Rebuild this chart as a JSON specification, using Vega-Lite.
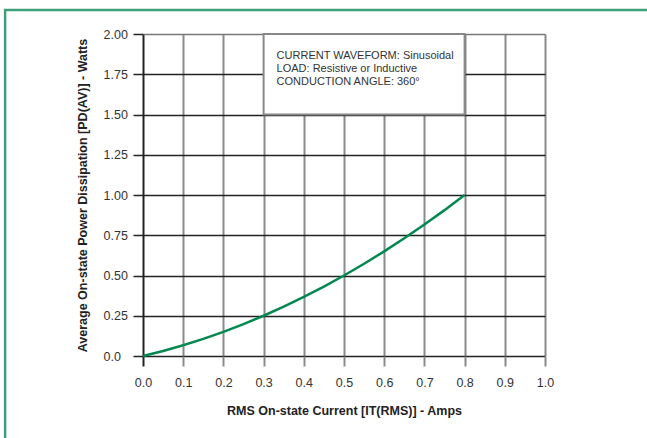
{
  "$schema": "https://vega.github.io/schema/vega-lite/v6.json",
  "autosize": {"type": "none"},
  "width": 402,
  "height": 322,
  "padding": {"left": 143, "top": 34, "right": 102, "bottom": 82},
  "background": "white",
  "config": {
    "view": {"stroke": null},
    "font": "Liberation Sans",
    "axis": {"labelFont": "Liberation Sans", "titleFont": "Liberation Sans"}
  },
  "datasets": {
    "curve": [
      {"current": 0.0, "power": 0.0},
      {"current": 0.05, "power": 0.031},
      {"current": 0.1, "power": 0.067},
      {"current": 0.15, "power": 0.106},
      {"current": 0.2, "power": 0.15},
      {"current": 0.25, "power": 0.198},
      {"current": 0.3, "power": 0.25},
      {"current": 0.35, "power": 0.306},
      {"current": 0.4, "power": 0.367},
      {"current": 0.45, "power": 0.431},
      {"current": 0.5, "power": 0.5},
      {"current": 0.55, "power": 0.573},
      {"current": 0.6, "power": 0.65},
      {"current": 0.65, "power": 0.731},
      {"current": 0.7, "power": 0.817},
      {"current": 0.75, "power": 0.906},
      {"current": 0.8, "power": 1.0}
    ],
    "note": [
      {"text": "CURRENT WAVEFORM: Sinusoidal\nLOAD: Resistive or Inductive\nCONDUCTION ANGLE: 360°"}
    ]
  },
  "layer": [
    {
      "data": {"name": "curve"},
      "mark": {"type": "line", "color": "#00884f", "strokeWidth": 2.5},
      "encoding": {
        "x": {
          "field": "current", "type": "quantitative",
          "scale": {"domain": [0, 1], "nice": false, "zero": false},
          "axis": {
            "values": [0, 0.1, 0.2, 0.3, 0.4, 0.5, 0.6, 0.7, 0.8, 0.9, 1.0],
            "format": ".1f",
            "domain": false,
            "grid": true,
            "gridColor": {"condition": {"test": "datum.value == 0", "value": "#222222"}, "value": "#8a8a8a"},
            "gridWidth": 2,
            "gridOpacity": 1,
            "ticks": true,
            "tickSize": 10,
            "tickWidth": 2,
            "tickColor": {"condition": {"test": "datum.value == 0", "value": "#222222"}, "value": "#8a8a8a"},
            "labelFlush": false,
            "labelOverlap": false,
            "labelFontSize": 12.5,
            "labelColor": "#333333",
            "labelPadding": 10,
            "labelBaseline": "top",
            "title": "RMS On-state Current [IT(RMS)] - Amps",
            "titleFontSize": 12.5,
            "titleFontWeight": "bold",
            "titleColor": "#222222",
            "titleY": 54,
            "titleBaseline": "middle"
          }
        },
        "y": {
          "field": "power", "type": "quantitative",
          "scale": {"domain": [0, 2], "nice": false, "zero": false},
          "axis": {
            "values": [0, 0.25, 0.5, 0.75, 1.0, 1.25, 1.5, 1.75, 2.0],
            "labelExpr": "datum.value == 0 ? '0.0' : format(datum.value, '.2f')",
            "domain": false,
            "grid": true,
            "gridColor": {"condition": {"test": "datum.value == 2", "value": "#777777"}, "value": "#222222"},
            "gridWidth": 1.5,
            "gridOpacity": 1,
            "ticks": true,
            "tickSize": 10,
            "tickWidth": 1.5,
            "tickColor": "#222222",
            "labelFlush": false,
            "labelOverlap": false,
            "labelFontSize": 12.5,
            "labelColor": "#333333",
            "labelAlign": "left",
            "labelBaseline": "middle",
            "labelPadding": 30,
            "title": "Average On-state Power Dissipation [PD(AV)] - Watts",
            "titleFontSize": 12.5,
            "titleFontWeight": "bold",
            "titleColor": "#222222",
            "titleX": -61,
            "titleY": 161,
            "titleBaseline": "middle",
            "titleAlign": "center"
          }
        }
      }
    },
    {
      "data": {"name": "note"},
      "mark": {"type": "rect", "fill": "white", "stroke": "#888888", "strokeWidth": 2},
      "encoding": {
        "x": {"datum": 0.3, "type": "quantitative", "scale": {"domain": [0, 1], "nice": false, "zero": false}},
        "x2": {"datum": 0.8},
        "y": {"datum": 2.0, "type": "quantitative", "scale": {"domain": [0, 2], "nice": false, "zero": false}},
        "y2": {"datum": 1.5}
      }
    },
    {
      "data": {"name": "note"},
      "mark": {"type": "text", "align": "left", "baseline": "alphabetic", "dx": 13, "dy": 25, "fontSize": 11, "lineHeight": 13, "lineBreak": "\n", "color": "#333333", "font": "Liberation Sans"},
      "encoding": {
        "x": {"datum": 0.3, "type": "quantitative", "scale": {"domain": [0, 1], "nice": false, "zero": false}},
        "y": {"datum": 2.0, "type": "quantitative", "scale": {"domain": [0, 2], "nice": false, "zero": false}},
        "text": {"field": "text"}
      }
    },
    {
      "data": {"name": "note"},
      "mark": {"type": "rect", "fill": null, "fillOpacity": 0, "stroke": "#3f9f7a", "strokeWidth": 2.5},
      "encoding": {
        "x": {"datum": -0.343, "type": "quantitative", "scale": {"domain": [0, 1], "nice": false, "zero": false}},
        "x2": {"datum": 1.6},
        "y": {"datum": 2.149, "type": "quantitative", "scale": {"domain": [0, 2], "nice": false, "zero": false}},
        "y2": {"datum": -0.8}
      }
    }
  ]
}
